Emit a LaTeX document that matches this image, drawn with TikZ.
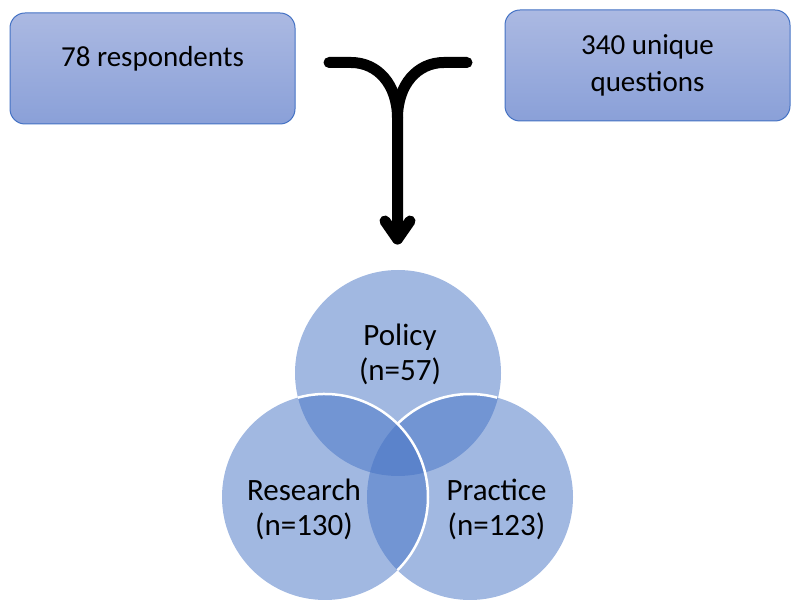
\documentclass[tikz,border=0pt]{standalone}
\usepackage{fontspec}
\setmainfont{Carlito}
\usepackage{tikz}
\usetikzlibrary{calc, positioning}
\usepackage{xcolor}

\definecolor{vennblue}{HTML}{4472C4}
\definecolor{boxtop}{RGB}{171,185,226}
\definecolor{boxbottom}{RGB}{138,160,216}

\tikzset{
  countbox/.style={draw=vennblue, line width=1pt, rounded corners=15pt,
    top color=boxtop, bottom color=boxbottom, minimum width=285pt,
    minimum height=111pt, inner sep=0pt, align=center,
    font=\fontsize{29}{37.4}\selectfont},
  venn/.style={fill=vennblue, fill opacity=0.5},
  vennedge/.style={white, line width=2.5pt},
  vennlabel/.style={align=center, font=\fontsize{31}{35.5}\selectfont},
  mergearrow/.style={line width=11pt, line cap=round, line join=round}
}

\begin{document}
\begin{tikzpicture}[x=1pt, y=1pt]
            \useasboundingbox (0,0) rectangle (800,610);

            % the two inputs on top
            \node[countbox, text height=19pt, text depth=22pt] (respondents) at (152.5,541.5) {78 respondents};
            \node[countbox] (questions) at (647.5,544.5) {340 unique\\questions};

            % both arms join and point down to the sets
            \coordinate (armL) at (329,547.5);
            \coordinate (armR) at (467,547.5);
            \coordinate (merge) at (397.5,492);
            \coordinate (tip) at (397.5,371);
            \draw[mergearrow] (armL) -- (351,547.5) .. controls (378,547.5) and (397.5,525) .. (merge) -- (tip);
            \draw[mergearrow] (armR) -- (444,547.5) .. controls (417,547.5) and (397.5,525) .. (merge);
            \draw[mergearrow] (385,389) -- (tip) -- (410,389);

            % three overlapping sets
            \coordinate (policyC) at (398,237);
            \coordinate (researchC) at (325,113);
            \coordinate (practiceC) at (470,113);
            \fill[venn] (policyC) circle[radius=103];
            \fill[venn] (researchC) circle[radius=103];
            \fill[venn] (practiceC) circle[radius=103];
            \draw[vennedge] (researchC) ++(105.3:103) arc[start angle=105.3, end angle=-45.2, radius=103];
            \draw[vennedge] (practiceC) ++(74.7:103) arc[start angle=74.7, end angle=134.8, radius=103];

            \node[vennlabel] (policy) at (400,255.5) {Policy\\(n=57)};
            \node[vennlabel] (research) at (304,100.7) {Research\\(n=130)};
            \node[vennlabel] (practice) at (496.5,100.7) {Practice\\(n=123)};
        \end{tikzpicture}
\end{document}
